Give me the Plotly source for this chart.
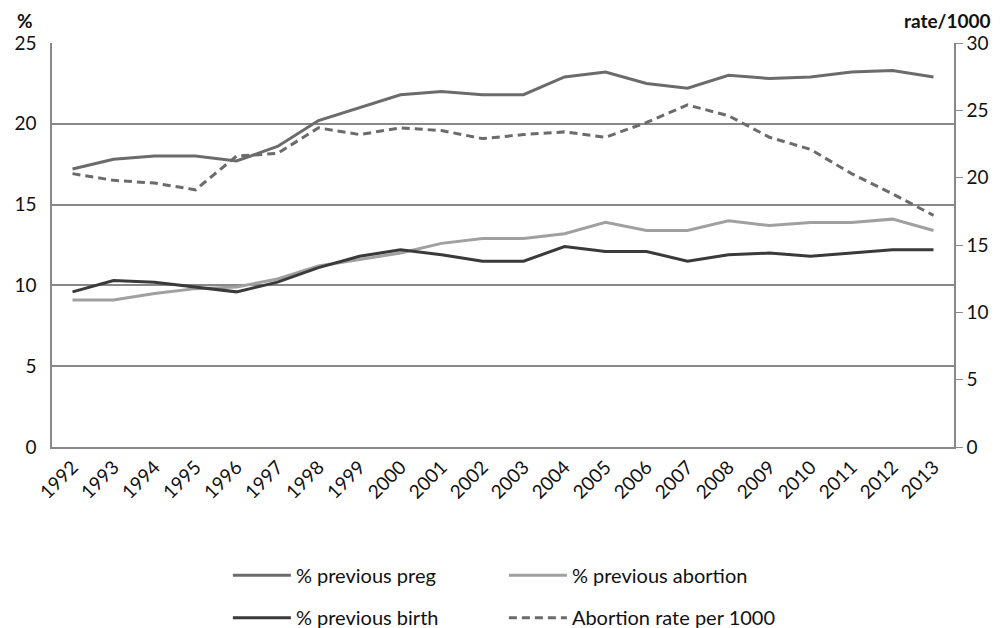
import plotly.graph_objects as go

years = [str(y) for y in range(1992, 2014)]
prev_preg = [17.2, 17.8, 18.0, 18.0, 17.7, 18.6, 20.2, 21.0, 21.8, 22.0, 21.8,
             21.8, 22.9, 23.2, 22.5, 22.2, 23.0, 22.8, 22.9, 23.2, 23.3, 22.9]
prev_abortion = [9.1, 9.1, 9.5, 9.8, 9.9, 10.4, 11.2, 11.6, 12.0, 12.6, 12.9,
                 12.9, 13.2, 13.9, 13.4, 13.4, 14.0, 13.7, 13.9, 13.9, 14.1, 13.4]
prev_birth = [9.6, 10.3, 10.2, 9.9, 9.6, 10.2, 11.1, 11.8, 12.2, 11.9, 11.5,
              11.5, 12.4, 12.1, 12.1, 11.5, 11.9, 12.0, 11.8, 12.0, 12.2, 12.2]
abortion_rate = [20.3, 19.8, 19.6, 19.1, 21.6, 21.8, 23.7, 23.2, 23.7, 23.5, 22.9,
                 23.2, 23.4, 23.0, 24.1, 25.4, 24.6, 23.0, 22.1, 20.3, 18.8, 17.2]

FONT = "Lato, 'Open Sans', sans-serif"
fig = go.Figure()
fig.add_trace(go.Scatter(x=years, y=prev_preg, mode="lines", name="% previous preg",
                         line=dict(color="#6b6b6b", width=3), legend="legend"))
fig.add_trace(go.Scatter(x=years, y=prev_abortion, mode="lines", name="% previous abortion",
                         line=dict(color="#a0a0a0", width=3), legend="legend"))
fig.add_trace(go.Scatter(x=years, y=prev_birth, mode="lines", name="% previous birth",
                         line=dict(color="#3a3a3a", width=3), legend="legend2"))
fig.add_trace(go.Scatter(x=years, y=abortion_rate, mode="lines", name="Abortion rate per 1000",
                         line=dict(color="#6b6b6b", width=3, dash="8px,5px"), yaxis="y2",
                         legend="legend2"))

fig.update_layout(
    width=993, height=620,
    margin=dict(l=44, r=47, t=35, b=181, autoexpand=False),
    plot_bgcolor="white", paper_bgcolor="white",
    font=dict(family=FONT, size=18, color="#111111"),
    xaxis=dict(type="category", range=[-0.5, 21.5], tickangle=-45, showgrid=False,
               showline=True, linecolor="#888888", linewidth=1.5, ticks="",
               tickfont=dict(size=19), automargin=False),
    yaxis=dict(range=[0, 25], dtick=5, showgrid=True, gridcolor="#888888", gridwidth=1.5,
               showline=True, linecolor="#888888", linewidth=1.5, ticks="", zeroline=False,
               tickfont=dict(size=19), automargin=False, ticklabelstandoff=10),
    yaxis2=dict(range=[0, 30], dtick=5, overlaying="y", side="right", showgrid=False,
                showline=True, linecolor="#888888", linewidth=1.5, ticks="outside",
                ticklen=7, tickcolor="#888888", zeroline=False, tickfont=dict(size=19),
                automargin=False),
    legend=dict(orientation="h", x=0.195, y=-0.3175, xanchor="left", yanchor="middle",
                entrywidth=203, entrywidthmode="pixels", font=dict(size=20),
                itemwidth=58, tracegroupgap=0),
    legend2=dict(orientation="h", x=0.195, y=-0.4224, xanchor="left", yanchor="middle",
                 entrywidth=203, entrywidthmode="pixels", font=dict(size=20),
                 itemwidth=58, tracegroupgap=0),
    annotations=[
        dict(text="<b>%</b>", xref="paper", yref="paper", x=-0.030, y=1.0, yshift=10,
             showarrow=False, xanchor="center", yanchor="bottom", font=dict(size=19),
             borderpad=0),
        dict(text="<b>rate/1000</b>", xref="paper", yref="paper", x=1.0432, y=1.0, yshift=9,
             showarrow=False, xanchor="right", yanchor="bottom", font=dict(size=19)),
    ],
)
fig.write_html("out.html")
